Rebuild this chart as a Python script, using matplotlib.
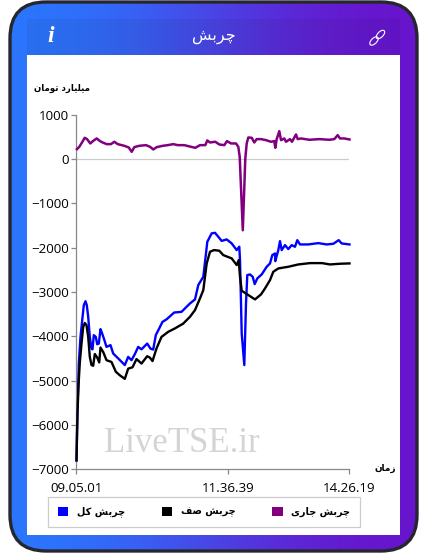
import numpy as np
import matplotlib
matplotlib.use('Agg')
import matplotlib.pyplot as plt
from matplotlib.patches import FancyBboxPatch, Rectangle, Ellipse, Patch

W, H = 427, 554

# x is position along the time axis (the axis is not linear in clock time)
tick_pos = [0, 152, 273]
tick_labels = ['09.05.01', '11.36.39', '14.26.19']
y_ticks = [1000, 0, -1000, -2000, -3000, -4000, -5000, -6000, -7000]

total_x = [0, 1, 2.3, 4, 5.7, 7.3, 9, 10.3, 11.7, 13.3, 15, 16, 17.3, 19.3, 20.7, 22.3, 24, 25.7, 27.7, 30,
           34, 36.7, 41.7, 48.3, 51.7, 55, 58.3, 61.7, 65, 70.7, 74, 76.7, 79.3, 82.7, 86, 90, 97.7, 105, 111.7,
           113.5, 118.5, 121.8, 126.8, 129.5, 130.8, 135.2, 138.5, 145.2, 150.2, 155.2, 160.2, 162.8, 163.5,
           165.2, 167.8, 169.5, 170.8, 173.5, 176.2, 178.2, 180.8, 185.2, 190.2, 193.5, 195.8, 198.5, 198.8,
           201.8, 203.5, 205.2, 208.5, 211.8, 215.2, 218.5, 220.8, 223.5, 231.8, 241.8, 250.2, 256.8, 262.2,
           265.2, 273]
total_y = [-6800, -5590, -4615, -4014, -3640, -3300, -3210, -3300, -3560, -4014, -4280, -4295, -3976, -4014,
           -4180, -4165, -3840, -3940, -4075, -4240, -4200, -4390, -4500, -4650, -4465, -4540, -4405, -4240,
           -4295, -4165, -4280, -4300, -3975, -3825, -3675, -3620, -3465, -3450, -3300, -3260, -3170, -2845,
           -2660, -2130, -1870, -1680, -1667, -1850, -1817, -1907, -2057, -1980, -2283, -3935, -4650, -3260,
           -2620, -2606, -2659, -2824, -2696, -2606, -2433, -2358, -2170, -2133, -2306, -2058, -1855, -2058,
           -1945, -2035, -1945, -1983, -1833, -1930, -1930, -1900, -1930, -1915, -1833, -1908, -1930]

queue_x = [0, 1, 2.3, 3.3, 5, 6.7, 8.3, 10, 11.7, 13.3, 15, 16.7, 18.3, 20.7, 22.7, 24, 26.7, 30, 35, 39.3,
           43.3, 48.3, 51.7, 56, 60, 65, 70.7, 73.3, 76, 80, 85, 91.7, 98.3, 106.7, 113.5, 118.5, 123.5, 126.8,
           130.2, 133.5, 137.5, 142.8, 146.8, 155.2, 160.2, 162.2, 163.5, 165.2, 171.8, 178.5, 184.5, 188.5,
           193.5, 196.8, 201.8, 211.8, 221.8, 233.5, 245.5, 253.5, 263.5, 273]
queue_y = [-6800, -5700, -4990, -4600, -4165, -3790, -3700, -3750, -4014, -4465, -4650, -4665, -4400, -4480,
           -4590, -4255, -4355, -4540, -4580, -4800, -4880, -4960, -4730, -4700, -4515, -4615, -4450, -4480,
           -4560, -4275, -4015, -3900, -3825, -3715, -3560, -3410, -3146, -2960, -2358, -2095, -2057, -2072,
           -2170, -2245, -2395, -2283, -2658, -2974, -3071, -3169, -3057, -2922, -2734, -2546, -2471, -2433,
           -2381, -2351, -2351, -2381, -2365, -2358]

active_x = [0.5, 2.8, 5.5, 8.2, 10.5, 13.8, 16.8, 20.2, 23.5, 26.8, 30.2, 34.5, 37.8, 41.2, 47.8, 52.2, 55.2,
            57.8, 62.8, 69.5, 73.5, 76.8, 80.2, 86.2, 91.2, 96.8, 101.2, 107.8, 114.5, 118.8, 123.5, 128.8,
            130.8, 133.5, 138.8, 142.8, 147.8, 150.5, 154.5, 159.5, 161.8, 163.2, 166.3, 168.8, 170.2, 171.8,
            175.2, 177.8, 180.2, 184.5, 189.5, 194.5, 197.8, 198.8, 200.2, 202.8, 204.5, 207.8, 209.5, 213.5,
            215.5, 219.5, 221.2, 224.5, 232.8, 242.8, 252.8, 257.8, 261.2, 263.5, 267.8, 273]
active_y = [219, 272, 369, 475, 445, 347, 407, 460, 400, 362, 332, 332, 385, 332, 294, 257, 159, 264, 294, 309,
            272, 212, 264, 294, 309, 332, 309, 309, 272, 249, 309, 309, 415, 369, 385, 324, 309, 400, 347, 347,
            272, 47, -1610, 9, 347, 482, 475, 369, 445, 445, 422, 385, 400, 249, 445, 625, 422, 460, 385, 445,
            385, 550, 445, 460, 430, 445, 430, 445, 535, 460, 460, 437]

FA_FORMS = {
    'چ': (0xFB7A, 0xFB7B, 0xFB7C, 0xFB7D), 'ب': (0xFE8F, 0xFE90, 0xFE91, 0xFE92),
    'ش': (0xFEB5, 0xFEB6, 0xFEB7, 0xFEB8), 'ک': (0xFB8E, 0xFB8F, 0xFB90, 0xFB91),
    'ل': (0xFEDD, 0xFEDE, 0xFEDF, 0xFEE0), 'ص': (0xFEB9, 0xFEBA, 0xFEBB, 0xFEBC),
    'ف': (0xFED1, 0xFED2, 0xFED3, 0xFED4), 'ج': (0xFE9D, 0xFE9E, 0xFE9F, 0xFEA0),
    'ی': (0xFBFC, 0xFBFD, 0xFBFE, 0xFBFF), 'م': (0xFEE1, 0xFEE2, 0xFEE3, 0xFEE4),
    'ت': (0xFE95, 0xFE96, 0xFE97, 0xFE98), 'ن': (0xFEE5, 0xFEE6, 0xFEE7, 0xFEE8),
    'ا': (0xFE8D, 0xFE8E), 'ر': (0xFEAD, 0xFEAE), 'د': (0xFEA9, 0xFEAA),
    'و': (0xFEED, 0xFEEE), 'ز': (0xFEAF, 0xFEB0),
}


# matplotlib does not shape Arabic script, so pick the joined forms and reverse
def fa(text):
    out = []
    for i, ch in enumerate(text):
        if ch not in FA_FORMS:
            out.append(ch)
            continue
        prev = text[i - 1] if i > 0 else ' '
        nxt = text[i + 1] if i + 1 < len(text) else ' '
        joins_prev = prev in FA_FORMS and len(FA_FORMS[prev]) == 4
        joins_next = nxt in FA_FORMS and len(FA_FORMS[ch]) == 4
        if joins_prev and joins_next:
            idx = 3
        elif joins_next:
            idx = 2
        elif joins_prev:
            idx = 1
        else:
            idx = 0
        out.append(chr(FA_FORMS[ch][idx]))
    return ''.join(reversed(out))


fig = plt.figure(figsize=(W / 100, H / 100), dpi=100, facecolor='white')

# card background, in pixel coordinates
bg = fig.add_axes([0, 0, 1, 1])
bg.axis('off')

grad = np.array([[0.0, 1.0]])
cmap = matplotlib.colors.LinearSegmentedColormap.from_list('card', ['#2979ff', '#6a11cb'])
im = bg.imshow(grad, extent=(9, 418, 552, 1), cmap=cmap, aspect='auto', interpolation='bicubic', zorder=1)
bg.set_xlim(0, W)
bg.set_ylim(H, 0)
frame = FancyBboxPatch((10, 2), 407, 549, boxstyle='round,pad=0,rounding_size=36',
                       fc='none', ec='#26262e', lw=2.4, zorder=3)
bg.add_patch(frame)
im.set_clip_path(frame)
bg.add_patch(Rectangle((27, 19), 373, 36, fc='black', alpha=0.05, lw=0, zorder=2))
bg.add_patch(Rectangle((27, 55), 373, 480, fc='white', lw=0, zorder=2))

bg.text(214, 36, fa('چربش'), color='white', fontsize=11.5, family='DejaVu Sans',
        ha='center', va='center', zorder=4)
bg.text(51, 37, 'i', color='white', fontsize=17, family='Liberation Serif', style='italic',
        weight='bold', ha='center', va='center', zorder=4)
for cx, cy in [(374, 41), (380.5, 34.5)]:
    bg.add_patch(Ellipse((cx, cy), 10.5, 5.5, angle=-45, fc='none', ec='white', lw=0.8, zorder=4))

bg.text(62.5, 88, fa('میلیارد تومان'), fontsize=6.2, weight='bold', family='DejaVu Sans',
        ha='center', va='center', zorder=4)
bg.text(385, 468, fa('زمان'), fontsize=6.4, weight='bold', family='DejaVu Sans',
        ha='center', va='center', zorder=4)
bg.text(182, 452, 'LiveTSE.ir', fontsize=25, color='#d4d4d4', family='Liberation Serif',
        ha='center', va='baseline', zorder=4)

# chart
left, right, top, bottom = 76.5, 349.5, 114.5, 469.3
ax = fig.add_axes([left / W, 1 - bottom / H, (right - left) / W, (bottom - top) / H])
ax.patch.set_alpha(0)
ax.set_xlim(0, 273)
ax.set_ylim(-7000, 1000)
ax.axhline(0, color='#cccccc', lw=0.9, zorder=1)
ax.plot(total_x, total_y, color='#0000ff', lw=1.7, zorder=2, clip_on=False)
ax.plot(queue_x, queue_y, color='#000000', lw=1.7, zorder=3, clip_on=False)
ax.plot(active_x, active_y, color='#800080', lw=1.8, zorder=4, clip_on=False)

ax.set_xticks(tick_pos)
ax.set_xticklabels(tick_labels)
ax.set_yticks(y_ticks)
for name in ['top', 'right']:
    ax.spines[name].set_visible(False)
for name in ['left', 'bottom']:
    ax.spines[name].set_color('#888888')
    ax.spines[name].set_linewidth(0.9)
ax.tick_params(axis='both', color='#888888', width=0.9, length=3.5, labelsize=9.6, labelcolor='black', pad=2)
ax.tick_params(axis='x', pad=6)
for lab in ax.get_xticklabels() + ax.get_yticklabels():
    lab.set_family('Open Sans')

handles = [Patch(fc='#0000ff', label=fa('چربش کل')),
           Patch(fc='#000000', label=fa('چربش صف')),
           Patch(fc='#800080', label=fa('چربش جاری'))]
leg = bg.legend(handles=handles, ncol=3, loc='center', bbox_to_anchor=(204, 512), bbox_transform=bg.transData,
                frameon=True, fancybox=False, edgecolor='#cccccc', facecolor='white', framealpha=1,
                prop={'family': 'DejaVu Sans', 'weight': 'bold', 'size': 7},
                handlelength=1.05, handleheight=1.05, handletextpad=0.9, columnspacing=3.8,
                borderpad=1.0, borderaxespad=0)
leg.set_zorder(5)
leg.get_frame().set_linewidth(0.9)

plt.savefig('out.png', dpi=100)
